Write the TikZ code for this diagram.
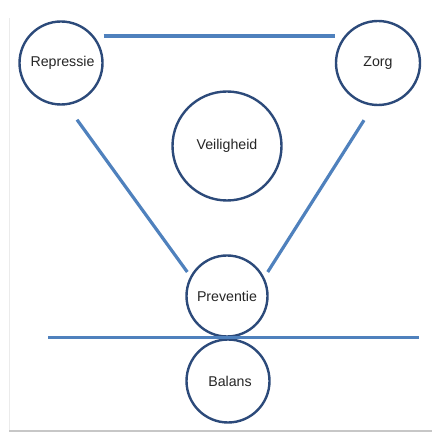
\documentclass[tikz,border=0pt]{standalone}
\usepackage{fontspec}
\setmainfont{Liberation Sans}
\definecolor{linkblue}{RGB}{79,129,189}
\definecolor{ringblue}{RGB}{44,74,122}
\begin{document}
\begin{tikzpicture}[x=1pt,y=1pt,
  ring/.style={circle,draw=ringblue,line width=2.4pt,fill=white,inner sep=0pt,
    font=\fontsize{14.2}{16}\selectfont,text=black!85},
  link/.style={draw=linkblue,line width=3.2pt}]
\useasboundingbox (0,0) rectangle (432,433);
\draw[black!8,line width=1pt] (9,415) -- (9,2);
\draw[black!22,line width=1.2pt] (9,2) -- (432,2);
\node[ring,minimum size=83pt] (rep) at (61,370) {\hspace*{3pt}Repressie};
\node[ring,minimum size=84pt] (zorg) at (378,370) {Zorg};
\node[ring,minimum size=109pt] (veil) at (227,287) {Veiligheid};
\node[ring,minimum size=81pt] (prev) at (227,137) {Preventie};
\node[ring,minimum size=83pt] (bal) at (228,52) {\hspace*{4pt}Balans};
\draw[link] ([yshift=27pt]rep.east) -- ([yshift=27pt]zorg.west);
\draw[link] ([shift={(16pt,-14pt)}]rep.south) -- ([shift={(2pt,24pt)}]prev.west);
\draw[link] ([shift={(-14pt,-14pt)}]zorg.south) -- ([shift={(-1pt,24pt)}]prev.east);
\draw[link] ([xshift=-179pt]prev.south) -- ([xshift=192pt]prev.south);
\end{tikzpicture}
\end{document}
